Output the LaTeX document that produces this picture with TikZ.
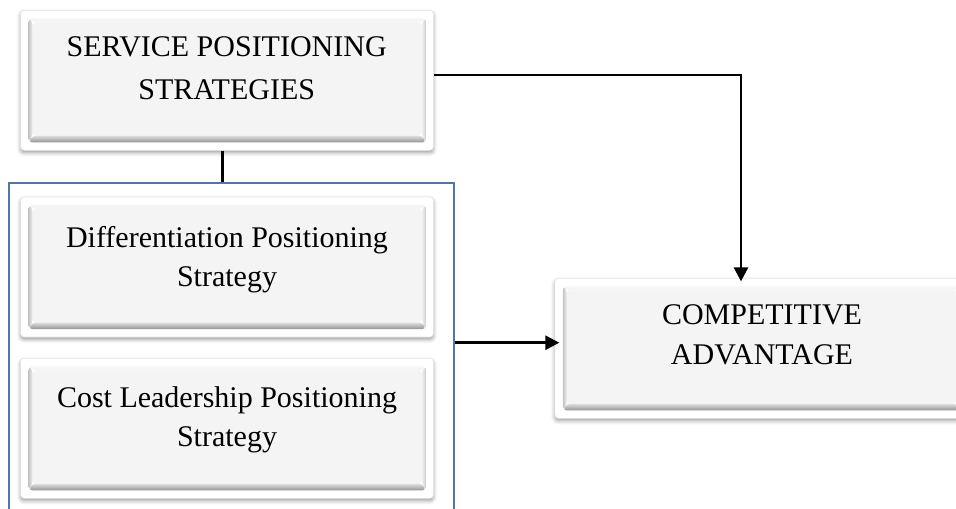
\documentclass[tikz,border=0pt]{standalone}
\usepackage{fontspec}
\setmainfont{Liberation Serif}
\usetikzlibrary{calc,shadows.blur,arrows.meta}
\definecolor{panelface}{HTML}{F4F4F4}
\definecolor{framerim}{HTML}{E6E6E6}
\definecolor{groupblue}{HTML}{4F77A8}
\tikzset{
  framebox/.style={draw=framerim, line width=0.4pt, fill=white, rounded corners=2.5pt,
    minimum width=309.5pt, minimum height=105pt, inner sep=0pt,
    blur shadow={shadow xshift=0pt, shadow yshift=-1.8pt, shadow blur radius=3pt, shadow opacity=40},
    path picture={
      \coordinate (PA) at ($(path picture bounding box.north west)+(6pt,-6pt)$);
      \coordinate (PB) at ($(path picture bounding box.north east)+(-5.5pt,-6pt)$);
      \coordinate (PC) at ($(path picture bounding box.south east)+(-5.5pt,6pt)$);
      \coordinate (PD) at ($(path picture bounding box.south west)+(6pt,6pt)$);
      \coordinate (QA) at ($(PA)+(3pt,-3pt)$);
      \coordinate (QB) at ($(PB)+(-3pt,-3pt)$);
      \coordinate (QC) at ($(PC)+(-3pt,5pt)$);
      \coordinate (QD) at ($(PD)+(3pt,5pt)$);
      \fill[panelface] (QA) -- (QB) -- (QC) -- (QD) -- cycle;
      \fill[white!96!black] (PA) -- (PB) -- (QB) -- (QA) -- cycle;
      \shade[left color=black!22, right color=black!6] (PA) -- (QA) -- (QD) -- (PD) -- cycle;
      \shade[left color=black!6, right color=black!20] (PB) -- (QB) -- (QC) -- (PC) -- cycle;
      \shade[top color=black!12, bottom color=black!42] (PD) -- (QD) -- (QC) -- (PC) -- cycle;
    }},
  lbl/.style={align=center, text=black, inner sep=0pt},
  groupbox/.style={draw=groupblue, line width=1.5pt, inner sep=0pt},
  conn/.style={line width=2pt, black},
  arr/.style={conn, -{Triangle[length=10.5pt,width=10.5pt]}},
}
\begin{document}
\begin{tikzpicture}[x=0.75pt,y=-0.75pt]
\useasboundingbox (0,0) rectangle (956,508);

% group container
\node[groupbox, minimum width=334.1pt, minimum height=253pt] (grp) at (231.75,351.25) {};

% boxes
\node[framebox] (spsbox) at (227,80.3) {};
\node[framebox] (dpsbox) at (227,267) {};
\node[framebox] (clpbox) at (227,428.3) {};
\node[framebox] (cabox) at (761.3,348.3) {};

% labels
\node[lbl, font=\fontsize{22.5}{32.5}\selectfont] (spslbl) at (226.7,68.3) {SERVICE POSITIONING\\STRATEGIES};
\node[lbl, font=\fontsize{22.5}{29.5}\selectfont] (dpslbl) at (227,259.6) {Differentiation Positioning\\Strategy};
\node[lbl, font=\fontsize{22.5}{29}\selectfont] (clplbl) at (227,419.7) {Cost Leadership Positioning\\Strategy};
\node[lbl, font=\fontsize{22.5}{30}\selectfont] (calbl) at (762,335) {COMPETITIVE\\ADVANTAGE};

% connectors
\draw[conn] ([xshift=-3.4pt]spsbox.south) -- ([xshift=-3.4pt]spsbox.south |- grp.north);
\coordinate (bend) at (741,75);
\draw[arr, shorten >=-2.5pt] (spsbox.east |- bend) -- (bend) -- (bend |- cabox.north);
\coordinate (midy) at (0,342.7);
\draw[arr, shorten >=-3.5pt] (grp.east |- midy) -- (cabox.west |- midy);
\end{tikzpicture}
\end{document}
